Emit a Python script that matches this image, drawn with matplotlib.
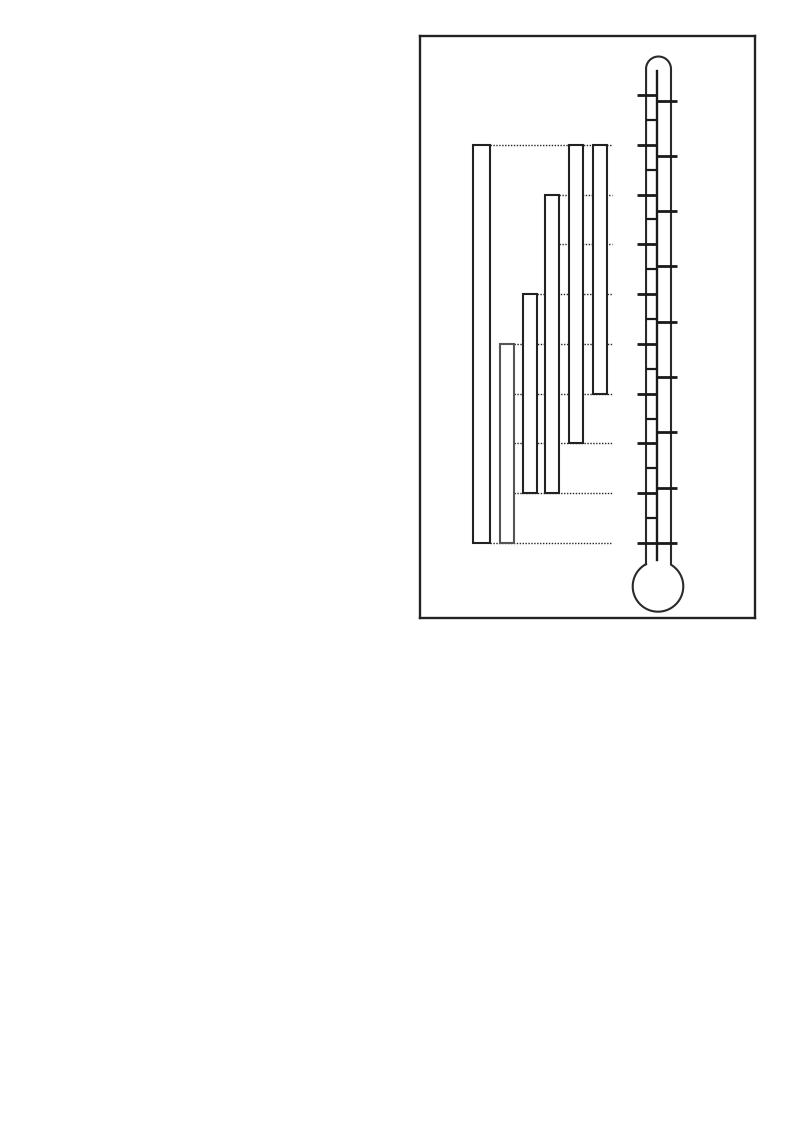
import numpy as np
import matplotlib
matplotlib.use("Agg")
import matplotlib.pyplot as plt
from matplotlib.patches import Rectangle

# ---- data (temperature ranges in °C) ----
range_top_c = [40, 0, 10, 30, 40, 40]
range_bottom_c = [-40, -40, -30, -30, -20, -10]
grid_levels_c = [40, 30, 20, 10, 0, -10, -20, -30, -40]
grid_start_after = [0, 3, 3, 2, 1, 1, 1, 1, 0]   # bar after which the dotted guide begins
celsius_major = list(range(-40, 51, 10))
celsius_minor = list(range(-35, 46, 10))
fahrenheit_major = list(range(-40, 121, 20))

# ---- layout (pixels) ----
W, H = 791, 1132
fx0, fx1, fy0, fy1 = 420, 755, 36, 618
PX_PER_C = 4.978
Y_M40 = 543.0


def c_from_py(py):
    return -40 + (Y_M40 - py) / PX_PER_C


bar_left = [473, 500, 523, 545, 569, 593]
bar_width = [17, 14, 14, 14, 14, 14]
grid_end = 612

fig = plt.figure(figsize=(W / 100, H / 100), dpi=100)
ax = fig.add_axes([fx0 / W, 1 - fy1 / H, (fx1 - fx0) / W, (fy1 - fy0) / H])
ax.set_xlim(fx0, fx1)
ax.set_ylim(c_from_py(fy1), c_from_py(fy0))
ax.set_xticks([])
ax.set_yticks([])
for s in ax.spines.values():
    s.set_linewidth(1.7)
    s.set_color("#222222")

# dotted guides
for lvl, bi in zip(grid_levels_c, grid_start_after):
    x0 = bar_left[bi] + bar_width[bi]
    ax.plot([x0, grid_end], [lvl, lvl], color="#222222", lw=1.0,
            linestyle=(0, (1, 1.1)), zorder=1)

# bars
for i, (t, b) in enumerate(zip(range_top_c, range_bottom_c)):
    ec = "#555555" if i == 1 else "#222222"
    ax.add_patch(Rectangle((bar_left[i], b), bar_width[i], t - b,
                           facecolor="white", edgecolor=ec, lw=1.5, zorder=2))

# thermometer outline (pixel geometry, y down)
xl, xr = 646.0, 671.0
xc = (xl + xr) / 2
r_t = (xr - xl) / 2
top_cy = 69.0
bulb_cx, bulb_cy, bulb_r = 658.0, 586.4, 25.3
a_r = np.arctan2(-np.sqrt(bulb_r ** 2 - (xr - bulb_cx) ** 2), xr - bulb_cx)
a_l = np.arctan2(-np.sqrt(bulb_r ** 2 - (xl - bulb_cx) ** 2), xl - bulb_cx)
join_r = bulb_cy + bulb_r * np.sin(a_r)
join_l = bulb_cy + bulb_r * np.sin(a_l)
th_top = np.linspace(np.pi, 2 * np.pi, 60)
top_x = xc + r_t * np.cos(th_top)
top_y = top_cy + r_t * np.sin(th_top)
th_b = np.linspace(a_r, a_l + 2 * np.pi, 200)
bx = bulb_cx + bulb_r * np.cos(th_b)
by = bulb_cy + bulb_r * np.sin(th_b)
px = np.concatenate([[xl], top_x, [xr], bx])
py = np.concatenate([[join_l], top_y, [join_r], by])
ax.plot(px, [c_from_py(v) for v in py], color="#2a2a2a", lw=1.5, zorder=3,
        solid_joinstyle="round")

# stem
stem_x = 657.0
ax.plot([stem_x, stem_x], [c_from_py(71), c_from_py(560)], color="#1a1a1a", lw=1.7, zorder=4)

# Celsius ticks (left)
for v in celsius_major:
    ax.plot([637, stem_x], [v, v], color="#1a1a1a", lw=2.0, zorder=4, solid_capstyle="butt")
for v in celsius_minor:
    ax.plot([xl, stem_x], [v, v], color="#1a1a1a", lw=1.6, zorder=4, solid_capstyle="butt")

# Fahrenheit ticks (right)
for f in fahrenheit_major:
    c = (f - 32) * 5 / 9
    ax.plot([stem_x, 677], [c, c], color="#1a1a1a", lw=2.0, zorder=4, solid_capstyle="butt")

fig.savefig("out.png", dpi=100)
